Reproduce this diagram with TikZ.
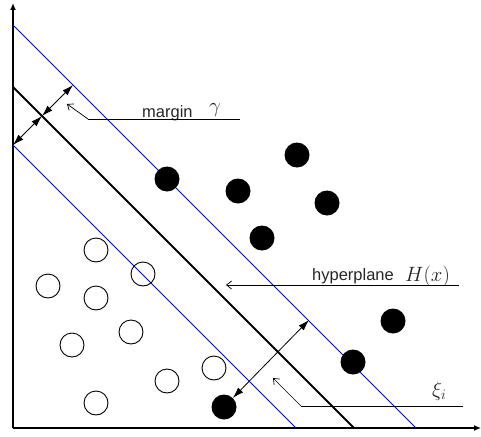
\documentclass[tikz,border=0pt]{standalone}
\usepackage{fontspec}
\newfontfamily\lsans{Liberation Sans}
\usetikzlibrary{arrows.meta}
\begin{document}
\begin{tikzpicture}[x=1pt,y=-1pt,
  axisline/.style={line width=1.3pt,-{Latex[length=7pt,width=6pt]}},
  sepline/.style={line width=1.8pt,black},
  margline/.style={line width=0.8pt,blue},
  dblarrow/.style={line width=0.8pt,{Latex[length=11pt,width=7pt]}-{Latex[length=11pt,width=7pt]}},
  leadline/.style={line width=0.7pt},
  leadarrow/.style={line width=0.7pt,-{Straight Barb[length=5pt,width=8pt]}},
  negpt/.style={circle,draw,line width=0.9pt,minimum size=24pt,inner sep=0pt},
  pospt/.style={circle,fill=black,minimum size=25pt,inner sep=0pt},
  txtlbl/.style={font=\lsans\fontsize{16.5}{18}\selectfont,text=black!85,inner sep=0pt,anchor=base west},
  mathlbl/.style={font=\fontsize{20}{22}\selectfont,text=black!85,inner sep=0pt,anchor=base west}]
\useasboundingbox (0,0) rectangle (481,436);
% axes
\coordinate (O) at (13,428);
\coordinate (Ytop) at (13,3);
\coordinate (Xend) at (481,428);
\draw[axisline] (O) -- (Ytop);
\draw[axisline] (O) -- (Xend);
% lines
\coordinate (U1) at (13,25);  \coordinate (U2) at (416,428);
\coordinate (H1) at (13,87);  \coordinate (H2) at (354,428);
\coordinate (L1) at (13,145); \coordinate (L2) at (296,428);
\draw[margline] (U1) -- (U2);
\draw[sepline] (H1) -- (H2);
\draw[margline] (L1) -- (L2);
% negative samples
\node[negpt] (n1) at (96,250) {};
\node[negpt] (n2) at (48,286) {};
\node[negpt] (n3) at (143,274) {};
\node[negpt] (n4) at (96,298) {};
\node[negpt] (n5) at (131,332) {};
\node[negpt] (n6) at (72,345) {};
\node[negpt] (n7) at (167,381) {};
\node[negpt] (n8) at (214,368) {};
\node[negpt] (n9) at (96,403) {};
% positive samples
\node[pospt] (p1) at (167,179) {};
\node[pospt] (p2) at (238,191) {};
\node[pospt] (p3) at (297,155) {};
\node[pospt] (p4) at (327,203) {};
\node[pospt] (p5) at (262,238) {};
\node[pospt] (p6) at (393,321) {};
\node[pospt] (p7) at (353,362) {};
\node[pospt] (p8) at (224,407) {};
% margin arrows
\coordinate (m0) at (13,145);
\coordinate (m1) at (42,116);
\coordinate (m2) at (73,85);
\draw[dblarrow] (m0) -- (m1);
\draw[dblarrow] (m1) -- (m2);
% slack arrow
\coordinate (s0) at (309,320);
\draw[dblarrow] (s0) -- (p8);
% margin label
\node[txtlbl] (tm) at (142,117) {margin};
\node[mathlbl] (tg) at (209,112) {$\gamma$};
\coordinate (ma) at (240,119);
\coordinate (mb) at (88,119);
\coordinate (mc) at (67,104);
\draw[leadline] (ma) -- (mb);
\draw[leadarrow] (mb) -- (mc);
% hyperplane label
\node[txtlbl] (th) at (312,280) {hyperplane};
\node[mathlbl] (tH) at (405,281) {$H(x)$};
\coordinate (ha) at (459,285);
\coordinate (hb) at (226,285);
\draw[leadarrow] (ha) -- (hb);
% xi label
\node[mathlbl] (tx) at (432,396) {$\xi_i$};
\coordinate (xa) at (463,406);
\coordinate (xb) at (301,406);
\coordinate (xc) at (273,378);
\draw[leadline] (xa) -- (xb);
\draw[leadarrow] (xb) -- (xc);
\end{tikzpicture}
\end{document}
